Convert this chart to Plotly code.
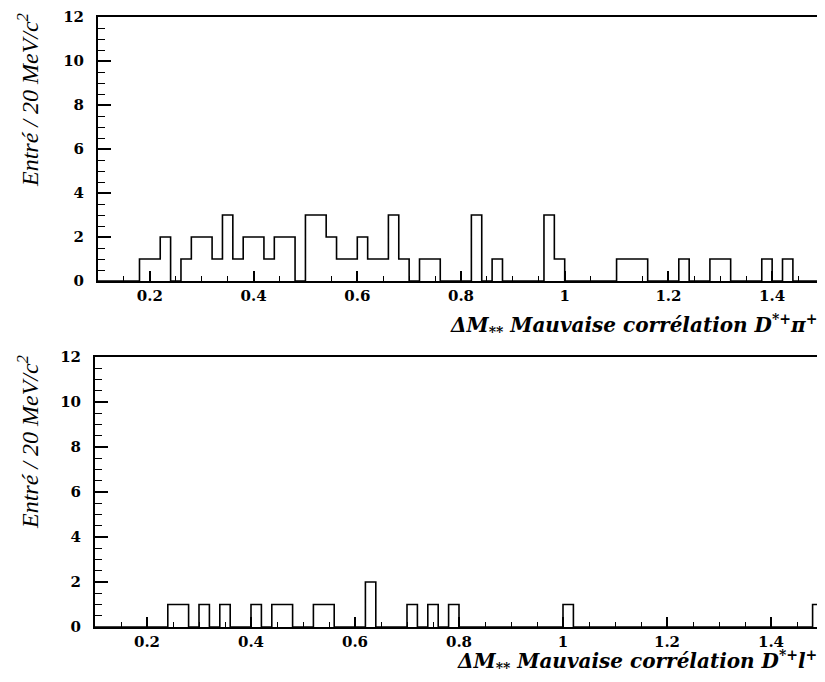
import numpy as np
import plotly.graph_objects as go

# ---- data (bin low edges in GeV/c^2, 20 MeV bins, and counts) ----
bin_width = 0.02
x_min, x_max = 0.10, 1.50

top_bins = [0.18, 0.20, 0.22, 0.26, 0.28, 0.30, 0.32, 0.34, 0.36, 0.38, 0.40,
            0.42, 0.44, 0.46, 0.50, 0.52, 0.54, 0.56, 0.58, 0.60, 0.62, 0.64,
            0.66, 0.68, 0.72, 0.74, 0.82, 0.86, 0.96, 0.98, 1.10, 1.12, 1.14,
            1.22, 1.28, 1.30, 1.38, 1.42]
top_counts = [1, 1, 2, 1, 2, 2, 1, 3, 1, 2, 2,
              1, 2, 2, 3, 3, 2, 1, 1, 2, 1, 1,
              3, 1, 1, 1, 3, 1, 3, 1, 1, 1, 1,
              1, 1, 1, 1, 1]

bot_bins = [0.24, 0.26, 0.30, 0.34, 0.40, 0.44, 0.46, 0.52, 0.54, 0.62,
            0.70, 0.74, 0.78, 1.00, 1.48]
bot_counts = [1, 1, 1, 1, 1, 1, 1, 1, 1, 2,
              1, 1, 1, 1, 1]

y_ticks = [0, 2, 4, 6, 8, 10, 12]
x_ticks = [0.2, 0.4, 0.6, 0.8, 1.0, 1.2, 1.4]
x_tick_text = ["0.2", "0.4", "0.6", "0.8", "1", "1.2", "1.4"]

y_title = "<i>Entré / 20 MeV/c<sup>2</sup></i>"
x_title_top = "<b><i>ΔM<sub>**</sub> Mauvaise corrélation D<sup>*+</sup>π<sup>+</sup></i></b>"
x_title_bot = "<b><i>ΔM<sub>**</sub> Mauvaise corrélation D<sup>*+</sup>l<sup>+</sup></i></b>"


def step_arrays(bins, counts):
    nb = int(round((x_max - x_min) / bin_width))
    edges = x_min + bin_width * np.arange(nb + 1)
    h = np.zeros(nb)
    for b, c in zip(bins, counts):
        h[int(round((b - x_min) / bin_width))] = c
    return edges, np.append(h, 0.0)


W, H = 825, 682
OFF = 8  # page body margin offset (px)
fig = go.Figure()

ex, ey = step_arrays(top_bins, top_counts)
fig.add_trace(go.Scatter(x=ex, y=ey, mode="lines", line=dict(shape="hv", color="black", width=1.6),
                         xaxis="x", yaxis="y", showlegend=False, hoverinfo="skip"))
ex, ey = step_arrays(bot_bins, bot_counts)
fig.add_trace(go.Scatter(x=ex, y=ey, mode="lines", line=dict(shape="hv", color="black", width=1.6),
                         xaxis="x2", yaxis="y2", showlegend=False, hoverinfo="skip"))

tickfont = dict(family="DejaVu Serif", size=15, color="black", weight="bold")

def xaxis(domain, anchor):
    return dict(domain=domain, anchor=anchor, range=[x_min, x_max], automargin=False,
                tickmode="array", tickvals=x_ticks, ticktext=x_tick_text,
                ticks="inside", ticklen=10, tickwidth=1.5, tickcolor="black",
                minor=dict(dtick=0.05, tick0=0.1, ticks="inside", ticklen=5, tickwidth=1.2, tickcolor="black"),
                showline=True, linecolor="black", linewidth=2, mirror=True,
                showgrid=False, zeroline=False, tickfont=tickfont, ticklabelstandoff=0)

def yaxis(domain, anchor):
    return dict(domain=domain, anchor=anchor, range=[0, 12], automargin=False,
                tickmode="array", tickvals=y_ticks,
                ticks="inside", ticklen=13, tickwidth=1.5, tickcolor="black",
                minor=dict(dtick=0.5, tick0=0, ticks="inside", ticklen=7, tickwidth=1.2, tickcolor="black"),
                showline=True, linecolor="black", linewidth=2, mirror=True,
                showgrid=False, zeroline=False, tickfont=tickfont, ticklabelstandoff=9)

def px_x(p):
    return (p - OFF) / W

def px_y(p):
    return 1 - (p - OFF) / H

fig.update_layout(
    width=W, height=H, margin=dict(l=0, r=0, t=0, b=0),
    paper_bgcolor="white", plot_bgcolor="white",
    xaxis=xaxis([px_x(98), px_x(824)], "y"),
    yaxis=yaxis([px_y(281), px_y(17)], "x"),
    xaxis2=xaxis([px_x(95), px_x(823)], "y2"),
    yaxis2=yaxis([px_y(627), px_y(357)], "x2"),
)

ann_font_y = dict(family="Liberation Serif", size=24, color="black")
ann_font_x = dict(family="DejaVu Serif", size=20, color="black")
fig.add_annotation(text=y_title, xref="paper", yref="paper", x=px_x(28), y=px_y(100),
                   textangle=-90, showarrow=False, font=ann_font_y, xanchor="center", yanchor="middle")
fig.add_annotation(text=y_title, xref="paper", yref="paper", x=px_x(28), y=px_y(442),
                   textangle=-90, showarrow=False, font=ann_font_y, xanchor="center", yanchor="middle")
fig.add_annotation(text=x_title_top, xref="paper", yref="paper", x=px_x(819), y=px_y(325),
                   showarrow=False, font=ann_font_x, xanchor="right", yanchor="middle")
fig.add_annotation(text=x_title_bot, xref="paper", yref="paper", x=px_x(819), y=px_y(661),
                   showarrow=False, font=ann_font_x, xanchor="right", yanchor="middle")

fig.write_html("out.html")
